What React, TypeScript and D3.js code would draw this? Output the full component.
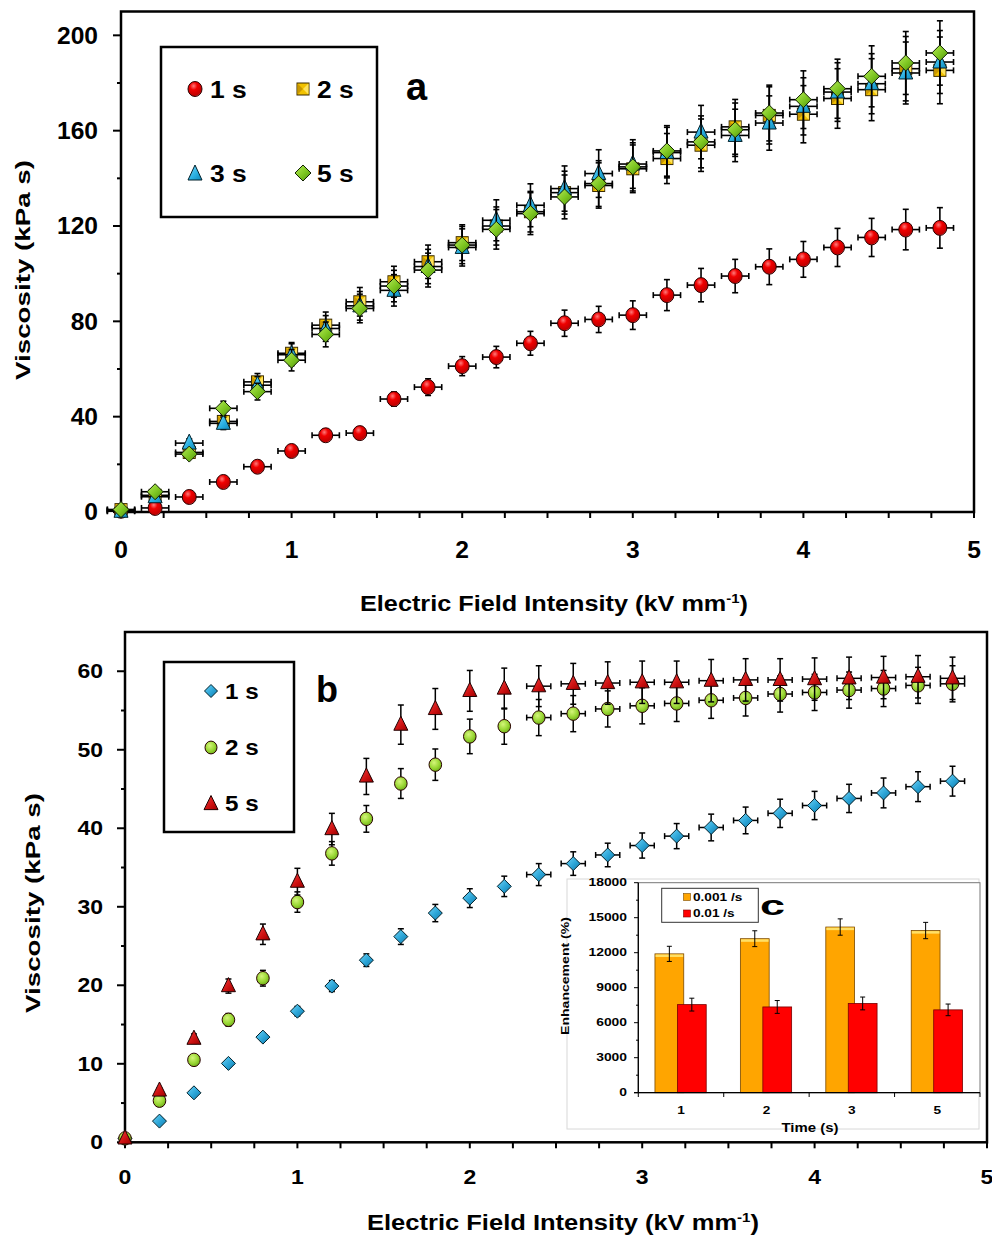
import React from 'react';
import * as d3 from 'd3';

// ---------------- Panel a data ----------------
const fieldA = [0, 0.2, 0.4, 0.6, 0.8, 1, 1.2, 1.4, 1.6, 1.8, 2, 2.2, 2.4, 2.6, 2.8, 3, 3.2, 3.4, 3.6, 3.8, 4, 4.2, 4.4, 4.6, 4.8];
const a1s = [0.5, 1.7, 6.3, 12.6, 19, 25.6, 32.2, 33.1, 47.4, 52.4, 61.2, 65, 70.8, 79.2, 80.8, 82.6, 91, 95.2, 99, 102.9, 106, 111, 115.2, 118.5, 119.2];
const a2s = [1, 7, 25, 38, 54.6, 66.6, 78.4, 88.2, 96.6, 105, 113, 120, 126, 134, 137, 144, 148.3, 153.9, 161.6, 166.4, 166.9, 173.5, 177.2, 186, 185.3];
const a3s = [0.3, 6.4, 28.9, 37.2, 53.2, 66, 77, 86.5, 93, 103, 111, 122.4, 128.7, 135.7, 142, 146, 150.8, 159.4, 158, 163.2, 170.2, 176.2, 179.7, 184.2, 188.8];
const a5s = [1, 8.5, 24.3, 43.5, 50.5, 63.7, 74.5, 85.4, 94.8, 101.5, 112, 118.6, 125.2, 132.2, 137.8, 144.8, 151.5, 155.3, 160.4, 167.4, 173, 177.6, 182.8, 188.4, 192.6];
const a1sErr = [0, 0.3, 0.6, 1, 1.5, 2, 2.5, 2.5, 3, 3.5, 4, 4.5, 5, 5.5, 5.5, 6, 6.5, 7, 7, 7.5, 7.5, 8, 8, 8.5, 8.5];
const a2sErr = [0, 0.5, 1.5, 2.5, 3.5, 4.5, 5.5, 6, 6.5, 7, 7.5, 8, 8.5, 9, 9.5, 10, 10.5, 11, 11.5, 12, 12, 12.5, 13, 13.5, 14];
const a3sErr = [0, 0.5, 1.8, 2.6, 3.6, 4.6, 5.4, 6, 6.6, 7.2, 7.8, 8.6, 9, 9.5, 10, 10.2, 10.6, 11.2, 11, 11.4, 12, 12.3, 12.6, 13, 13.2];
const a5sErr = [0, 0.6, 1.7, 3, 3.5, 4.5, 5.2, 6, 6.6, 7.1, 7.8, 8.3, 8.8, 9.2, 9.6, 10.1, 10.6, 10.9, 11.2, 11.7, 12.1, 12.4, 12.8, 13.2, 13.5];
const aXErr = 0.08;
const yTicksA = [0, 40, 80, 120, 160, 200];
const yMinorA = [20, 60, 100, 140, 180];
const xTicks = [0, 1, 2, 3, 4, 5];
const xMinor = [0.25, 0.5, 0.75, 1.25, 1.5, 1.75, 2.25, 2.5, 2.75, 3.25, 3.5, 3.75, 4.25, 4.5, 4.75];
const legendA = ['1 s', '2 s', '3 s', '5 s'];

// ---------------- Panel b data ----------------
const fieldB = [0, 0.2, 0.4, 0.6, 0.8, 1, 1.2, 1.4, 1.6, 1.8, 2, 2.2, 2.4, 2.6, 2.8, 3, 3.2, 3.4, 3.6, 3.8, 4, 4.2, 4.4, 4.6, 4.8];
const b1s = [0.5, 2.7, 6.3, 10.05, 13.4, 16.7, 19.9, 23.2, 26.2, 29.2, 31.1, 32.6, 34.1, 35.5, 36.6, 37.8, 39, 40.1, 41, 41.9, 42.9, 43.8, 44.5, 45.3, 46];
const b2s = [0.5, 5.3, 10.5, 15.6, 20.9, 30.6, 36.8, 41.2, 45.7, 48.1, 51.7, 53, 54.1, 54.6, 55.2, 55.6, 55.9, 56.3, 56.6, 57.1, 57.3, 57.6, 57.8, 58.2, 58.4];
const b5s = [0.5, 6.6, 13.2, 19.9, 26.5, 33.2, 39.9, 46.6, 53.2, 55.2, 57.5, 57.8, 58.1, 58.4, 58.5, 58.6, 58.6, 58.8, 58.9, 58.9, 59, 59.1, 59.2, 59.3, 59.1];
const b1sErr = [0, 0.2, 0.3, 0.4, 0.5, 0.6, 0.7, 0.8, 1, 1.1, 1.2, 1.3, 1.4, 1.5, 1.5, 1.6, 1.6, 1.7, 1.7, 1.8, 1.8, 1.8, 1.9, 1.9, 1.9];
const b2sErr = [0, 0.3, 0.5, 0.8, 1, 1.3, 1.5, 1.7, 1.9, 2, 2.2, 2.3, 2.3, 2.3, 2.3, 2.3, 2.3, 2.3, 2.3, 2.3, 2.3, 2.3, 2.3, 2.3, 2.3];
const b5sErr = [0, 0.3, 0.6, 0.9, 1.3, 1.7, 2, 2.3, 2.5, 2.6, 2.6, 2.6, 2.6, 2.6, 2.7, 2.7, 2.7, 2.7, 2.7, 2.7, 2.7, 2.7, 2.7, 2.7, 2.7];
const bXErr = [0, 0, 0, 0, 0, 0, 0, 0, 0, 0, 0, 0, 0.07, 0.07, 0.07, 0.07, 0.07, 0.07, 0.07, 0.07, 0.07, 0.07, 0.07, 0.07, 0.07];
const yTicksB = [0, 10, 20, 30, 40, 50, 60];
const yMinorB = [5, 15, 25, 35, 45, 55];
const legendB = ['1 s', '2 s', '5 s'];

// ---------------- Inset c data ----------------
const times = ['1', '2', '3', '5'];
const enh001 = [11900, 13200, 14200, 13900];
const enh001Err = [650, 680, 700, 700];
const enh01 = [7550, 7350, 7650, 7100];
const enh01Err = [550, 550, 550, 500];
const yTicksC = [0, 3000, 6000, 9000, 12000, 15000, 18000];
const yMinorC = [1500, 4500, 7500, 10500, 13500, 16500];
const legendC = ['0.001 /s', '0.01 /s'];

const FONT = '"Liberation Sans", Arial, sans-serif';

function T({ x, y, size, sx = 1, anchor = 'middle', rotate = false, children, weight = 'bold', fill = '#000' }: any) {
  const tr = `translate(${x},${y})${rotate ? ' rotate(-90)' : ''} scale(${sx},1)`;
  return (
    <text transform={tr} fontSize={size} fontWeight={weight} textAnchor={anchor} fontFamily={FONT} fill={fill}>
      {children}
    </text>
  );
}

function Circle({ x, y, r = 7, fill }: any) {
  return <ellipse cx={x} cy={y} rx={r} ry={r * 1.07} fill={fill} stroke="#2a0000" strokeWidth={1} />;
}
function Square({ x, y, s = 6 }: any) {
  return (
    <g>
      <rect x={x - s} y={y - s} width={2 * s} height={2 * s} fill="#F2C200" stroke="#3a2a00" strokeWidth={1} />
      <polygon points={`${x - s + 0.5},${y - s + 0.5} ${x},${y} ${x - s + 0.5},${y + s - 0.5}`} fill="#C99700" />
      <polygon points={`${x + s - 0.5},${y - s + 0.5} ${x},${y} ${x + s - 0.5},${y + s - 0.5}`} fill="#FFE35A" />
    </g>
  );
}
function Tri({ x, y, w = 7, h = 8, fill, stroke = '#00202a' }: any) {
  return <path d={`M${x},${y - h - 1}L${x + w},${y + h * 0.75}L${x - w},${y + h * 0.75}Z`} fill={fill} stroke={stroke} strokeWidth={1} />;
}
function Dia({ x, y, r = 8, fill, stroke = '#102000' }: any) {
  return <path d={`M${x},${y - r}L${x + r},${y}L${x},${y + r}L${x - r},${y}Z`} fill={fill} stroke={stroke} strokeWidth={1} />;
}

function ErrBars({ xs, ys, ey, ex, xs_, ys_, cap = 3, sw = 1.6 }: any) {
  return (
    <g stroke="#000" strokeWidth={sw} fill="none">
      {xs.map((xv: number, i: number) => {
        const px = xs_(xv);
        const py = ys_(ys[i]);
        const e = ey[i];
        const exv = Array.isArray(ex) ? ex[i] : ex;
        const parts: any[] = [];
        if (e > 0) {
          const t = ys_(ys[i] + e);
          const b = ys_(ys[i] - e);
          parts.push(<line key="v" x1={px} x2={px} y1={t} y2={b} />);
          parts.push(<line key="vt" x1={px - cap} x2={px + cap} y1={t} y2={t} />);
          parts.push(<line key="vb" x1={px - cap} x2={px + cap} y1={b} y2={b} />);
        }
        if (exv > 0) {
          const l = xs_(Math.max(xv - exv, xs_.domain()[0] - 1));
          const r = xs_(xv + exv);
          parts.push(<line key="h" x1={l} x2={r} y1={py} y2={py} />);
          parts.push(<line key="hl" x1={l} x2={l} y1={py - cap} y2={py + cap} />);
          parts.push(<line key="hr" x1={r} x2={r} y1={py - cap} y2={py + cap} />);
        }
        return <g key={i}>{parts}</g>;
      })}
    </g>
  );
}

export default function App() {
  const xA = d3.scaleLinear().domain([0, 5]).range([121, 974]);
  const yA = d3.scaleLinear().domain([0, 210]).range([512, 11.5]);
  const xB = d3.scaleLinear().domain([0, 5]).range([125, 987]);
  const yB = d3.scaleLinear().domain([0, 65]).range([1142.3, 632]);
  const xC = d3.scaleBand().domain(times).range([638.3, 980]);
  const yC = d3.scaleLinear().domain([0, 18000]).range([1092.7, 882.7]);
  const bw = xC.bandwidth();

  return (
    <svg width={992} height={1236} style={{ position: 'absolute', left: 0, top: 0, background: '#fff' }}>
      <defs>
        <radialGradient id="gRed" cx="0.4" cy="0.3" r="0.75">
          <stop offset="0" stopColor="#ff7a7a" />
          <stop offset="0.35" stopColor="#f00000" />
          <stop offset="0.85" stopColor="#c00000" />
          <stop offset="1" stopColor="#ff9a9a" />
        </radialGradient>
        <linearGradient id="gCyan" x1="0" y1="0" x2="1" y2="1">
          <stop offset="0" stopColor="#7fdcff" />
          <stop offset="0.6" stopColor="#27aee0" />
          <stop offset="1" stopColor="#1286b5" />
        </linearGradient>
        <linearGradient id="gGreen" x1="0" y1="0" x2="1" y2="1">
          <stop offset="0" stopColor="#b8ec5a" />
          <stop offset="0.55" stopColor="#7cc520" />
          <stop offset="1" stopColor="#4e8f10" />
        </linearGradient>
        <linearGradient id="gBlue" x1="0" y1="0" x2="1" y2="1">
          <stop offset="0" stopColor="#70d4f8" />
          <stop offset="0.55" stopColor="#2aa4d6" />
          <stop offset="1" stopColor="#1478a8" />
        </linearGradient>
        <radialGradient id="gLime" cx="0.4" cy="0.35" r="0.7">
          <stop offset="0" stopColor="#d4f57a" />
          <stop offset="0.6" stopColor="#98d632" />
          <stop offset="1" stopColor="#6aa81a" />
        </radialGradient>
        <linearGradient id="gDarkRed" x1="0" y1="0" x2="1" y2="1">
          <stop offset="0" stopColor="#f04040" />
          <stop offset="0.6" stopColor="#cc1010" />
          <stop offset="1" stopColor="#990000" />
        </linearGradient>
      </defs>
      <rect x={0} y={0} width={992} height={1236} fill="#fff" />

      {/* ================= Panel a ================= */}
      <g>
        <rect x={xA(0)} y={yA(210)} width={xA(5) - xA(0)} height={yA(0) - yA(210)} fill="none" stroke="#000" strokeWidth={2.5} />
        {yTicksA.map((t) => (
          <g key={t}>
            <line x1={xA(0) - 8} x2={xA(0)} y1={yA(t)} y2={yA(t)} stroke="#000" strokeWidth={2} />
            <T x={98} y={yA(t) + 8.3} size={23} sx={1.07} anchor="end">{t}</T>
          </g>
        ))}
        {yMinorA.map((t) => (
          <line key={t} x1={xA(0) - 4} x2={xA(0)} y1={yA(t)} y2={yA(t)} stroke="#000" strokeWidth={2} />
        ))}
        {xTicks.map((t) => (
          <g key={t}>
            <line x1={xA(t)} x2={xA(t)} y1={yA(0)} y2={yA(0) + 6} stroke="#000" strokeWidth={2} />
            <T x={xA(t)} y={558} size={23} sx={1.07}>{t}</T>
          </g>
        ))}
        {xMinor.map((t) => (
          <line key={t} x1={xA(t)} x2={xA(t)} y1={yA(0)} y2={yA(0) + 6} stroke="#000" strokeWidth={2} />
        ))}
        <text x={554} y={611} fontSize={22} fontWeight="bold" fontFamily={FONT} textAnchor="middle" textLength={388} lengthAdjust="spacingAndGlyphs">
          Electric Field Intensity (kV mm<tspan dy={-8} fontSize={13}>-1</tspan><tspan dy={8}>)</tspan>
        </text>
        <text transform="translate(30,270) rotate(-90)" fontSize={21} fontWeight="bold" fontFamily={FONT} textAnchor="middle" textLength={220} lengthAdjust="spacingAndGlyphs">
          Viscosity (kPa s)
        </text>

        <ErrBars xs={fieldA} ys={a1s} ey={a1sErr} ex={aXErr} xs_={xA} ys_={yA} />
        {fieldA.map((f, i) => <Circle key={i} x={xA(f)} y={yA(a1s[i])} fill="url(#gRed)" />)}
        <ErrBars xs={fieldA} ys={a2s} ey={a2sErr} ex={aXErr} xs_={xA} ys_={yA} />
        {fieldA.map((f, i) => <Square key={i} x={xA(f)} y={yA(a2s[i])} />)}
        <ErrBars xs={fieldA} ys={a3s} ey={a3sErr} ex={aXErr} xs_={xA} ys_={yA} />
        {fieldA.map((f, i) => <Tri key={i} x={xA(f)} y={yA(a3s[i])} fill="url(#gCyan)" />)}
        <ErrBars xs={fieldA} ys={a5s} ey={a5sErr} ex={aXErr} xs_={xA} ys_={yA} />
        {fieldA.map((f, i) => <Dia key={i} x={xA(f)} y={yA(a5s[i])} fill="url(#gGreen)" />)}

        <rect x={161} y={47} width={216} height={170} fill="#fff" stroke="#000" strokeWidth={2.5} />
        <Circle x={195} y={89} fill="url(#gRed)" />
        <T x={210} y={97.5} size={24} sx={1.1} anchor="start">{legendA[0]}</T>
        <Square x={303} y={89} />
        <T x={317} y={97.5} size={24} sx={1.1} anchor="start">{legendA[1]}</T>
        <Tri x={195} y={174} fill="url(#gCyan)" />
        <T x={210} y={181.5} size={24} sx={1.1} anchor="start">{legendA[2]}</T>
        <Dia x={303} y={173} fill="url(#gGreen)" />
        <T x={317} y={181.5} size={24} sx={1.1} anchor="start">{legendA[3]}</T>
        <T x={406} y={100} size={38} anchor="start">a</T>
      </g>

      {/* ================= Panel b ================= */}
      <g>
        <rect x={xB(0)} y={yB(65)} width={xB(5) - xB(0)} height={yB(0) - yB(65)} fill="none" stroke="#000" strokeWidth={2.5} />
        {yTicksB.map((t) => (
          <g key={t}>
            <line x1={xB(0) - 8} x2={xB(0)} y1={yB(t)} y2={yB(t)} stroke="#000" strokeWidth={2} />
            <T x={103} y={yB(t) + 7} size={20} sx={1.15} anchor="end">{t}</T>
          </g>
        ))}
        {yMinorB.map((t) => (
          <line key={t} x1={xB(0) - 4} x2={xB(0)} y1={yB(t)} y2={yB(t)} stroke="#000" strokeWidth={2} />
        ))}
        {xTicks.map((t) => (
          <g key={t}>
            <line x1={xB(t)} x2={xB(t)} y1={yB(0)} y2={yB(0) + 6} stroke="#000" strokeWidth={2} />
            <T x={xB(t)} y={1183.5} size={20} sx={1.15}>{t}</T>
          </g>
        ))}
        {xMinor.map((t) => (
          <line key={t} x1={xB(t)} x2={xB(t)} y1={yB(0)} y2={yB(0) + 6} stroke="#000" strokeWidth={2} />
        ))}
        <text x={563} y={1230} fontSize={22} fontWeight="bold" fontFamily={FONT} textAnchor="middle" textLength={392} lengthAdjust="spacingAndGlyphs">
          Electric Field Intensity (kV mm<tspan dy={-8} fontSize={13}>-1</tspan><tspan dy={8}>)</tspan>
        </text>
        <text transform="translate(40,903) rotate(-90)" fontSize={21} fontWeight="bold" fontFamily={FONT} textAnchor="middle" textLength={220} lengthAdjust="spacingAndGlyphs">
          Viscosity (kPa s)
        </text>

        <ErrBars xs={fieldB} ys={b1s} ey={b1sErr} ex={bXErr} xs_={xB} ys_={yB} cap={3} sw={1.5} />
        {fieldB.map((f, i) => <Dia key={i} x={xB(f)} y={yB(b1s[i])} r={7} fill="url(#gBlue)" stroke="#00202a" />)}
        <ErrBars xs={fieldB} ys={b2s} ey={b2sErr} ex={bXErr} xs_={xB} ys_={yB} cap={3} sw={1.5} />
        {fieldB.map((f, i) => <Circle key={i} x={xB(f)} y={yB(b2s[i])} r={6.3} fill="url(#gLime)" />)}
        <ErrBars xs={fieldB} ys={b5s} ey={b5sErr} ex={bXErr} xs_={xB} ys_={yB} cap={3} sw={1.5} />
        {fieldB.map((f, i) => <Tri key={i} x={xB(f)} y={yB(b5s[i])} w={7} h={7.5} fill="url(#gDarkRed)" stroke="#200000" />)}

        <rect x={164} y={662} width={130} height={170} fill="#fff" stroke="#000" strokeWidth={2.5} />
        <Dia x={211} y={691} r={6.5} fill="url(#gBlue)" stroke="#00202a" />
        <T x={225} y={698.5} size={22} sx={1.1} anchor="start">{legendB[0]}</T>
        <Circle x={211} y={747.5} r={6} fill="url(#gLime)" />
        <T x={225} y={755} size={22} sx={1.1} anchor="start">{legendB[1]}</T>
        <Tri x={211} y={804} w={7} h={7.5} fill="url(#gDarkRed)" stroke="#200000" />
        <T x={225} y={811} size={22} sx={1.1} anchor="start">{legendB[2]}</T>
        <T x={316} y={702} size={36} anchor="start">b</T>
      </g>

      {/* ================= Inset c ================= */}
      <g>
        <rect x={567} y={879} width={412} height={250} fill="#fff" stroke="#d8d8d8" strokeWidth={1} />
        <rect x={638.3} y={882.7} width={980 - 638.3} height={1092.7 - 882.7} fill="#fff" stroke="#777" strokeWidth={1} />
        {times.map((t, i) => {
          const c = (xC(t) as number) + bw / 2;
          const ox = c - bw * 0.305;
          const rx = c - bw * 0.042;
          const w = bw * 0.337;
          return (
            <g key={t}>
              <rect x={ox} y={yC(enh001[i])} width={w} height={yC(0) - yC(enh001[i])} fill="#FFA500" stroke="#7a4a00" strokeWidth={0.8} />
              <rect x={ox + 0.6} y={yC(enh001[i]) + 0.6} width={w - 1.2} height={2.5} fill="#FFE066" />
              <rect x={rx} y={yC(enh01[i])} width={w} height={yC(0) - yC(enh01[i])} fill="#FF0000" stroke="#7a0000" strokeWidth={0.8} />
              <g stroke="#000" strokeWidth={1}>
                <line x1={ox + w / 2} x2={ox + w / 2} y1={yC(enh001[i] + enh001Err[i])} y2={yC(enh001[i] - enh001Err[i])} />
                <line x1={ox + w / 2 - 2.5} x2={ox + w / 2 + 2.5} y1={yC(enh001[i] + enh001Err[i])} y2={yC(enh001[i] + enh001Err[i])} />
                <line x1={ox + w / 2 - 2.5} x2={ox + w / 2 + 2.5} y1={yC(enh001[i] - enh001Err[i])} y2={yC(enh001[i] - enh001Err[i])} />
                <line x1={rx + w / 2} x2={rx + w / 2} y1={yC(enh01[i] + enh01Err[i])} y2={yC(enh01[i] - enh01Err[i])} />
                <line x1={rx + w / 2 - 2.5} x2={rx + w / 2 + 2.5} y1={yC(enh01[i] + enh01Err[i])} y2={yC(enh01[i] + enh01Err[i])} />
                <line x1={rx + w / 2 - 2.5} x2={rx + w / 2 + 2.5} y1={yC(enh01[i] - enh01Err[i])} y2={yC(enh01[i] - enh01Err[i])} />
              </g>
              <T x={c} y={1113.5} size={10.5} sx={1.3}>{t}</T>
            </g>
          );
        })}
        <line x1={638.3} x2={638.3} y1={882.7} y2={1092.7} stroke="#000" strokeWidth={1.3} />
        <line x1={634} x2={980} y1={1092.7} y2={1092.7} stroke="#000" strokeWidth={1.3} />
        {yTicksC.map((t) => (
          <g key={t}>
            <line x1={634} x2={638.3} y1={yC(t)} y2={yC(t)} stroke="#000" strokeWidth={1} />
            <T x={627} y={yC(t) + 3.7} size={10.5} sx={1.32} anchor="end">{t}</T>
          </g>
        ))}
        {yMinorC.map((t) => (
          <line key={t} x1={636} x2={638.3} y1={yC(t)} y2={yC(t)} stroke="#000" strokeWidth={1} />
        ))}
        {times.map((t) => (
          <line key={t} x1={(xC(t) as number) + bw} x2={(xC(t) as number) + bw} y1={1092.7} y2={1097} stroke="#000" strokeWidth={1} />
        ))}
        <line x1={638.3} x2={638.3} y1={1092.7} y2={1097} stroke="#000" strokeWidth={1} />
        <text x={810} y={1132} fontSize={12} fontWeight="bold" fontFamily={FONT} textAnchor="middle" textLength={57} lengthAdjust="spacingAndGlyphs">Time (s)</text>
        <text transform="translate(569,976) rotate(-90)" fontSize={11} fontWeight="bold" fontFamily={FONT} textAnchor="middle" textLength={118} lengthAdjust="spacingAndGlyphs">Enhancement (%)</text>

        <rect x={661.7} y={888.3} width={96.6} height={34} fill="#fff" stroke="#333" strokeWidth={1} />
        <rect x={683.5} y={893.5} width={7} height={7} fill="#FFA500" stroke="#7a4a00" strokeWidth={0.6} />
        <T x={693} y={900.5} size={10.5} sx={1.3} anchor="start">{legendC[0]}</T>
        <rect x={683.5} y={910} width={7} height={7} fill="#FF0000" stroke="#7a0000" strokeWidth={0.6} />
        <T x={693} y={917} size={10.5} sx={1.3} anchor="start">{legendC[1]}</T>
        <text x={760} y={915} fontSize={27} fontWeight="bold" fontFamily={FONT} textLength={25} lengthAdjust="spacingAndGlyphs">c</text>
      </g>
    </svg>
  );
}
